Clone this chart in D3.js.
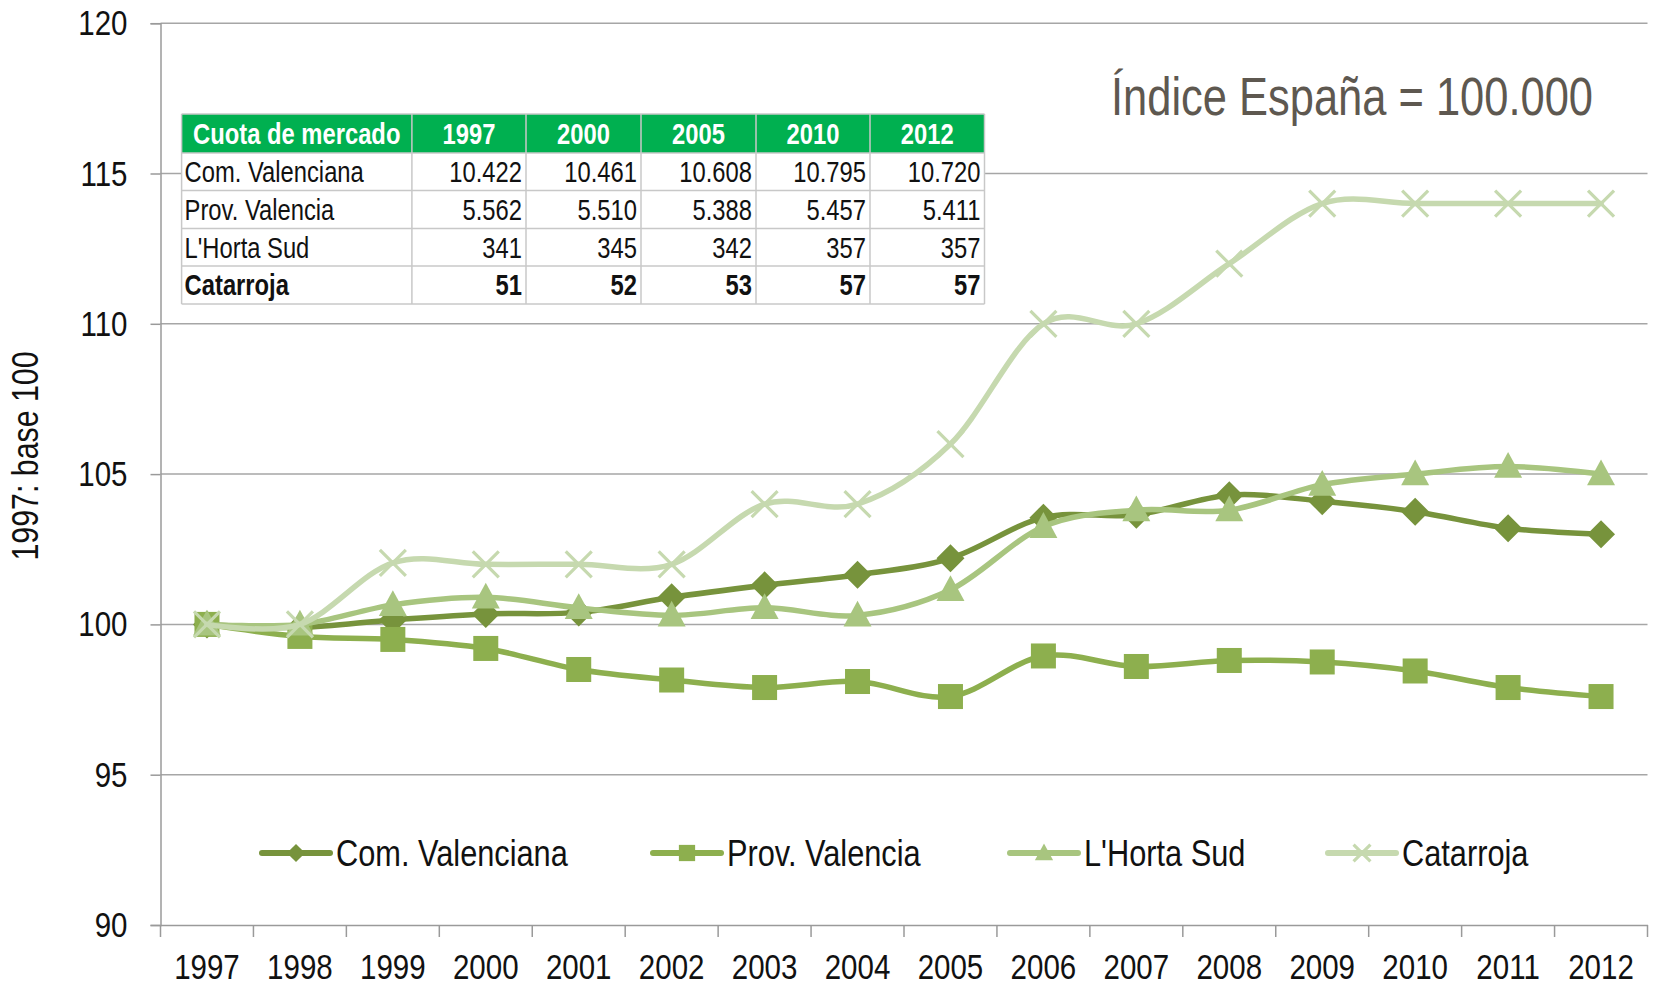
<!DOCTYPE html>
<html><head><meta charset="utf-8">
<script src="https://cdn.jsdelivr.net/npm/d3@7/dist/d3.min.js"></script>
<style>
body{margin:0;background:#fff}
text{font-family:"Liberation Sans",Arial,sans-serif}
</style>
</head><body>
<svg id="chart" width="1656" height="988"></svg>
<script>
// ---- data ----
const years = ["1997","1998","1999","2000","2001","2002","2003","2004","2005","2006","2007","2008","2009","2010","2011","2012"];
const seriesNames = ["Com. Valenciana","Prov. Valencia","L'Horta Sud","Catarroja"];
const comValenciana = [100,99.9,100.15,100.35,100.4,100.9,101.3,101.65,102.2,103.55,103.65,104.3,104.1,103.75,103.2,103.0];
const provValencia  = [100,99.6,99.5,99.2,98.5,98.15,97.9,98.1,97.6,98.95,98.6,98.8,98.75,98.45,97.9,97.6];
const hortaSud      = [100,100,100.65,100.9,100.55,100.3,100.55,100.3,101.15,103.25,103.8,103.8,104.65,105.0,105.25,105.0];
const catarroja     = [100,100,102.05,102,102,102,104,104,106,110,110,112,114,114,114,114];
const yTicks = [90,95,100,105,110,115,120];
const yTitle = "1997: base 100";
const note = "Índice España = 100.000";

const tableHeader = ["Cuota de mercado","1997","2000","2005","2010","2012"];
const tableRowNames = ["Com. Valenciana","Prov. Valencia","L'Horta Sud","Catarroja"];
const tableComValenciana = ["10.422","10.461","10.608","10.795","10.720"];
const tableProvValencia  = ["5.562","5.510","5.388","5.457","5.411"];
const tableHortaSud      = ["341","345","342","357","357"];
const tableCatarroja     = ["51","52","53","57","57"];

// ---- layout ----
const svg = d3.select("#chart");
const pL = 160.5, pR = 1647.5, pT = 23.2, pB = 925;
const colors = ["#77933C","#8DAF4E","#A8C57F","#C6D9AF"];
const shapes = ["diamond","square","triangle","cross"];
const values = [comValenciana, provValencia, hortaSud, catarroja];
const SX = 0.82; // condensed look of the original typeface

// condense text horizontally around its anchor point
function narrow(sel) {
  sel.each(function() {
    const t = d3.select(this);
    const tx = +t.attr("x") || 0, ty = +t.attr("y") || 0;
    t.attr("transform", `translate(${tx},${ty}) scale(${SX},1) translate(${-tx},${-ty})`);
  });
}

const x = d3.scaleBand().domain(years).range([pL, pR]);
const y = d3.scaleLinear().domain([90,120]).range([pB, pT]);

// gridlines
svg.append("g").selectAll("line").data(yTicks.filter(d => d > 90)).join("line")
  .attr("x1", pL).attr("x2", pR)
  .attr("y1", d => y(d)).attr("y2", d => y(d))
  .attr("stroke", "#A6A6A6").attr("stroke-width", 1.5);

// y axis
const yAxis = svg.append("g").attr("transform", `translate(${pL},0)`)
  .call(d3.axisLeft(y).tickValues(yTicks).tickSize(10).tickPadding(23));
yAxis.select(".domain").attr("stroke", "#9A9A9A").attr("stroke-width", 1.5);
yAxis.selectAll(".tick line").attr("stroke", "#9A9A9A").attr("stroke-width", 1.5);
yAxis.selectAll("text").attr("font-size", 36).attr("fill", "#111")
  .style("font-family", '"Liberation Sans",Arial,sans-serif').call(narrow);

// x axis
const xAxis = svg.append("g").attr("transform", `translate(0,${pB})`)
  .call(d3.axisBottom(x).tickSize(0).tickPadding(28));
xAxis.select(".domain").attr("stroke", "#9A9A9A").attr("stroke-width", 1.5);
xAxis.selectAll("text").attr("font-size", 36).attr("fill", "#111")
  .style("font-family", '"Liberation Sans",Arial,sans-serif').call(narrow);
// category boundary ticks
const bounds = years.map(d => x(d)).concat([x(years[years.length-1]) + x.bandwidth()]);
svg.append("g").selectAll("line").data(bounds).join("line")
  .attr("x1", d => d).attr("x2", d => d)
  .attr("y1", pB).attr("y2", pB + 12)
  .attr("stroke", "#9A9A9A").attr("stroke-width", 1.5);

// y title
svg.append("text")
  .attr("transform", `translate(38,456) rotate(-90) scale(${SX},1)`)
  .attr("text-anchor", "middle").attr("font-size", 37).attr("fill", "#111")
  .text(yTitle);

// note
svg.append("text").attr("x", 1593).attr("y", 115).attr("text-anchor", "end")
  .attr("font-size", 53).attr("fill", "#5E5850").text(note).call(narrow);

// marker drawing
function marker(g, shape, cx, cy, color, s) {
  if (shape === "diamond") {
    const r = 14*s;
    g.append("path").attr("d", `M${cx},${cy-r}L${cx+r},${cy}L${cx},${cy+r}L${cx-r},${cy}Z`).attr("fill", color);
  } else if (shape === "square") {
    const r = 12.5*s;
    g.append("rect").attr("x", cx-r).attr("y", cy-r).attr("width", 2*r).attr("height", 2*r).attr("fill", color);
  } else if (shape === "triangle") {
    const r = 14*s;
    g.append("path").attr("d", `M${cx},${cy-r*1.05}L${cx+r},${cy+r*0.8}L${cx-r},${cy+r*0.8}Z`).attr("fill", color);
  } else {
    const r = 13*s;
    g.append("path").attr("d", `M${cx-r},${cy-r}L${cx+r},${cy+r}M${cx-r},${cy+r}L${cx+r},${cy-r}`)
      .attr("stroke", color).attr("stroke-width", 3.2).attr("fill", "none");
  }
}

const line = d3.line()
  .x((d,i) => x(years[i]) + x.bandwidth()/2)
  .y(d => y(d))
  .curve(d3.curveCardinal.tension(0));

values.forEach((vals, k) => {
  const g = svg.append("g");
  g.append("path").datum(vals).attr("d", line)
    .attr("fill", "none").attr("stroke", colors[k]).attr("stroke-width", 5.5)
    .attr("stroke-linejoin", "round").attr("stroke-linecap", "round");
  vals.forEach((v, i) => marker(g, shapes[k], x(years[i]) + x.bandwidth()/2, y(v), colors[k], 1));
});

// legend
const legX = [262, 653, 1010, 1328];
const legY = 853;
seriesNames.forEach((name, k) => {
  const g = svg.append("g");
  g.append("line").attr("x1", legX[k]).attr("x2", legX[k] + 68)
    .attr("y1", legY).attr("y2", legY)
    .attr("stroke", colors[k]).attr("stroke-width", 6).attr("stroke-linecap", "round");
  marker(g, shapes[k], legX[k] + 34, legY, colors[k], 0.65);
  g.append("text").attr("x", legX[k] + 74).attr("y", legY).attr("dy", "0.35em")
    .attr("font-size", 37.5).attr("fill", "#111").text(name).call(narrow);
});

// table
const colX = [181.6, 411.9, 526, 641, 756, 870, 984.5];
const rowY = [114, 153, 190.5, 228.5, 266, 304];
const tableData = [tableComValenciana, tableProvValencia, tableHortaSud, tableCatarroja];
const tg = svg.append("g");
tg.append("rect").attr("x", colX[0]).attr("y", rowY[0]).attr("width", colX[6]-colX[0]).attr("height", rowY[5]-rowY[0])
  .attr("fill", "#fff");
tg.append("rect").attr("x", colX[0]).attr("y", rowY[0]).attr("width", colX[6]-colX[0]).attr("height", rowY[1]-rowY[0])
  .attr("fill", "#00B050");
rowY.forEach(r => tg.append("line").attr("x1", colX[0]).attr("x2", colX[6]).attr("y1", r).attr("y2", r)
  .attr("stroke", "#C8C8C8").attr("stroke-width", 1.5));
colX.forEach(c => tg.append("line").attr("x1", c).attr("x2", c).attr("y1", rowY[0]).attr("y2", rowY[5])
  .attr("stroke", "#C8C8C8").attr("stroke-width", 1.5));
tableHeader.forEach((h, j) => {
  tg.append("text").attr("x", (colX[j] + colX[j+1]) / 2).attr("y", (rowY[0] + rowY[1]) / 2).attr("dy", "0.36em")
    .attr("text-anchor", "middle").attr("font-size", 29).attr("font-weight", "bold").attr("fill", "#fff").text(h).call(narrow);
});
tableRowNames.forEach((n, i) => {
  const cy = (rowY[i+1] + rowY[i+2]) / 2;
  const bold = i === 3 ? "bold" : "normal";
  tg.append("text").attr("x", colX[0] + 3).attr("y", cy).attr("dy", "0.36em")
    .attr("font-size", 29).attr("font-weight", bold).attr("fill", "#111").text(n).call(narrow);
  tableData[i].forEach((v, j) => {
    tg.append("text").attr("x", colX[j+2] - 4).attr("y", cy).attr("dy", "0.36em").attr("text-anchor", "end")
      .attr("font-size", 29).attr("font-weight", bold).attr("fill", "#111").text(v).call(narrow);
  });
});
</script>
</body></html>
